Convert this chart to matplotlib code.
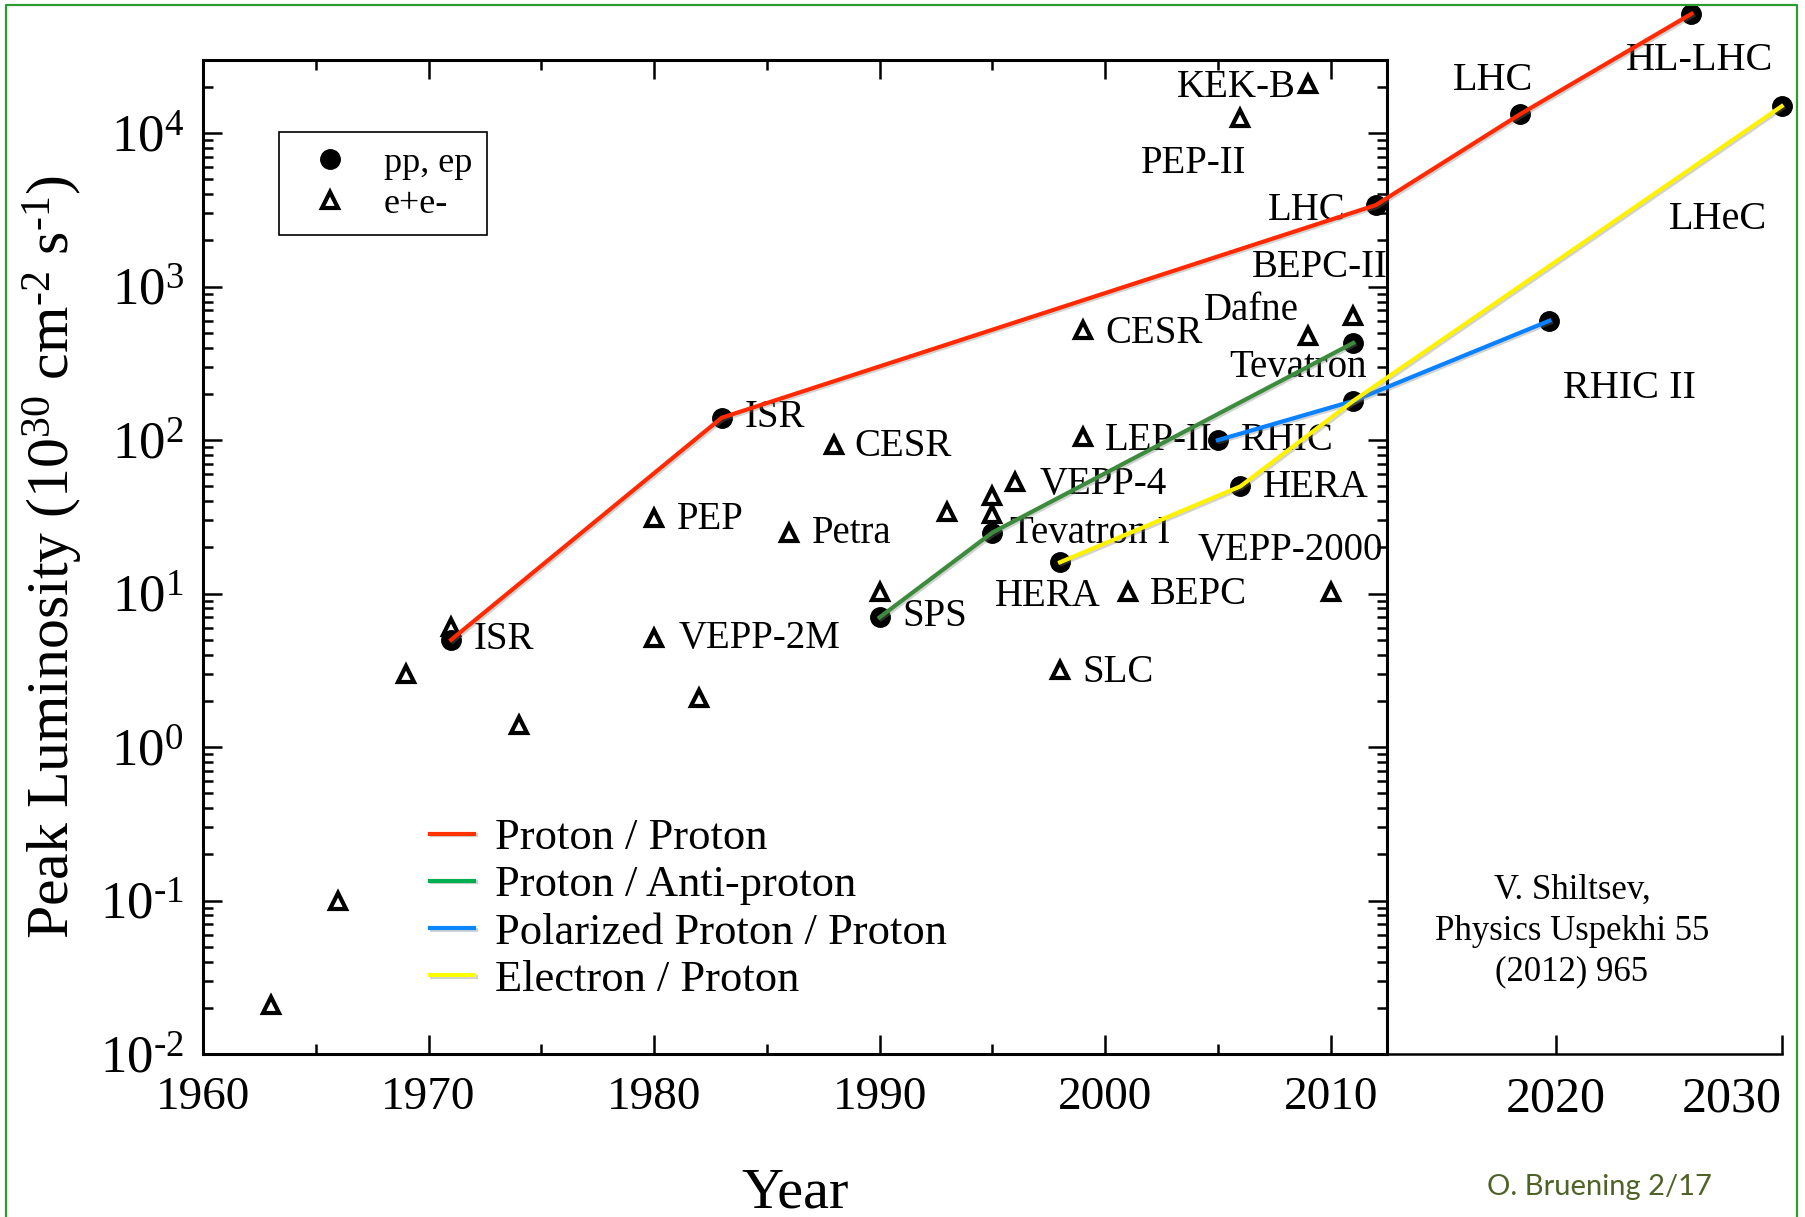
import math
import matplotlib
matplotlib.use('Agg')
import matplotlib.pyplot as plt
import matplotlib.patheffects as pe
from matplotlib.lines import Line2D
from matplotlib.ticker import MultipleLocator, LogLocator, NullFormatter, FuncFormatter

# fonts: Times-like serif everywhere, also inside the exponents
plt.rcParams['font.family'] = ['Liberation Serif', 'DejaVu Serif']
plt.rcParams['mathtext.fontset'] = 'custom'
plt.rcParams['mathtext.rm'] = 'Liberation Serif'
plt.rcParams['mathtext.it'] = 'Liberation Serif:italic'
plt.rcParams['mathtext.bf'] = 'Liberation Serif:bold'
plt.rcParams['axes.unicode_minus'] = False

# hadron colliders (pp, ep) - filled circles
pp_year = [1971, 1983, 1990, 1995, 1998, 2005, 2006, 2011, 2011, 2012, 2018.4, 2026, 2030, 2019.7]
pp_lum = [5, 140, 7, 25, 16, 100, 50, 180, 430, 3400, 13300, 60000, 15000, 600]

# lepton colliders (e+e-) - open triangles
ee_year = [1963, 1966, 1969, 1971, 1974, 1980, 1980, 1982, 1986, 1988, 1990, 1993,
           1995, 1995, 1996, 1998, 1999, 1999, 2001, 2006, 2009, 2009, 2010, 2011]
ee_lum = [0.021, 0.1, 3.0, 6.1, 1.4, 31, 5.1, 2.1, 25, 93, 10.2, 34,
          43, 33, 53, 3.2, 105, 520, 10.2, 12500, 21000, 480, 10.2, 640]

# connecting lines per collider type
pp_line_year = [1971, 1983, 2012, 2018.4, 2026]
pp_line_lum = [5, 140, 3400, 13300, 60000]
ppbar_year = [1990, 1995, 2011]
ppbar_lum = [7, 25, 430]
polpp_year = [2005, 2011, 2019.7]
polpp_lum = [100, 180, 600]
ep_year = [1998, 2006, 2011, 2030]
ep_lum = [16, 50, 180, 15000]

line_names = ['Proton / Proton', 'Proton / Anti-proton', 'Polarized Proton / Proton', 'Electron / Proton']
plot_colors = ['#ff2a00', '#3d8c3d', '#0a82ff', '#fff200']
legend_colors = ['#ff3300', '#00b050', '#0a84ff', '#ffff00']

# machine names and where their labels sit (year, luminosity)
machines = ['ISR', 'ISR', 'CESR', 'PEP', 'Petra', 'VEPP-2M', 'SPS', 'Tevatron I', 'HERA', 'BEPC',
            'SLC', 'VEPP-2000', 'VEPP-4', 'LEP-II', 'RHIC', 'HERA', 'CESR', 'Dafne', 'Tevatron',
            'BEPC-II', 'LHC', 'PEP-II', 'KEK-B']
machine_x = [1972.0, 1984.0, 1988.9, 1981.0, 1987.0, 1981.1, 1991.0, 1995.8, 1995.1, 2002.0,
             1999.0, 2004.1, 1997.1, 2000.0, 2006.0, 2007.0, 2000.0, 2004.4, 2005.5,
             2006.5, 2007.2, 2001.6, 2003.2]
machine_y = [5.06, 141, 91, 30.5, 24.8, 5.1, 7.1, 24.8, 9.6, 9.9,
             3.08, 19.2, 51.7, 100, 100, 49.4, 498, 703, 299,
             1340, 3150, 6380, 20000]

future = ['LHC', 'HL-LHC', 'LHeC', 'RHIC II']
future_x = [2015.4, 2023.1, 2025.0, 2020.3]
future_y = [22000, 30000, 2760, 218]

W, H = 1806, 1217
fig = plt.figure(figsize=(W / 100, H / 100), dpi=100)
ax = fig.add_axes([203 / W, 1 - 1054 / H, (1387 - 203) / W, (1054 - 60) / H])

ax.set_yscale('log')
ax.set_xlim(1960, 2012.5)
ax.set_ylim(1e-2, 3e4)

shadow = [pe.SimpleLineShadow(offset=(1.2, -1.2), shadow_color='gray', alpha=0.35), pe.Normal()]

# markers first, lines are drawn over them
ax.plot(ee_year, ee_lum, ls='none', marker='^', ms=11, mfc='white', mec='black', mew=3,
        clip_on=False, zorder=4)
ax.plot(pp_year, pp_lum, ls='none', marker='o', ms=14, color='black', clip_on=False, zorder=4)

for xs, ys, c in zip([pp_line_year, ppbar_year, polpp_year, ep_year],
                     [pp_line_lum, ppbar_lum, polpp_lum, ep_lum], plot_colors):
    ax.plot(xs, ys, color=c, lw=3, clip_on=False, zorder=5, path_effects=shadow)

for name, x, y in zip(machines, machine_x, machine_y):
    ax.text(x, y, name, fontsize=28, ha='left', va='center', zorder=3)
for name, x, y in zip(future, future_x, future_y):
    ax.text(x, y, name, fontsize=29, ha='left', va='center', zorder=3)

# axes styling
for sp in ax.spines.values():
    sp.set_linewidth(2.2)
ax.xaxis.set_major_locator(MultipleLocator(10))
ax.xaxis.set_minor_locator(MultipleLocator(5))
ax.yaxis.set_major_locator(LogLocator(base=10, numticks=12))
ax.yaxis.set_minor_locator(LogLocator(base=10, subs=range(2, 10), numticks=12))
ax.yaxis.set_minor_formatter(NullFormatter())
ax.yaxis.set_major_formatter(FuncFormatter(lambda v, p: r'$\mathregular{10^{\text{%d}}}$' % round(math.log10(v))))
ax.tick_params(which='both', direction='in', top=True, right=True, width=1.8)
ax.tick_params(which='major', length=13.7)
ax.tick_params(which='minor', length=7)
ax.tick_params(axis='x', labelsize=34, pad=16)
ax.tick_params(axis='y', labelsize=38, pad=14)

ax.set_xlabel('Year', fontsize=42)
ax.xaxis.set_label_coords(0.5, (1054 - 1168) / 994)
ax.set_ylabel(r'Peak Luminosity (10$^{30}$ cm$^{\text{-2}}$ s$^{\text{-1}}$)', fontsize=43)
ax.yaxis.set_label_coords((53 - 203) / 1184, 0.5)
ax.yaxis.label.set_va('center')

# the x axis continues into the future beyond the framed box
ax_ext = fig.add_axes([1387 / W, 1 - 1054 / H, 17.5 * 1184 / 52.5 / W, 0.05])
ax_ext.set_xlim(2012.5, 2030)
ax_ext.set_facecolor('none')
for s in ['top', 'left', 'right']:
    ax_ext.spines[s].set_visible(False)
ax_ext.spines['bottom'].set_linewidth(1.8)
ax_ext.set_yticks([])
ax_ext.set_xticks([2020, 2030])
ax_ext.set_xticklabels(['2020', '2030'])
ax_ext.tick_params(axis='x', direction='in', length=13.7, width=1.8, labelsize=36, pad=16)
ax_ext.get_xticklabels()[1].set_ha('right')

# marker legend (boxed, upper left)
mk_handles = [Line2D([], [], ls='none', marker='o', ms=14, color='black'),
              Line2D([], [], ls='none', marker='^', ms=11, mfc='white', mec='black', mew=3)]
leg1 = ax.legend(mk_handles, ['pp, ep', 'e+e-'], loc='upper left',
                 bbox_to_anchor=(279 / W, 1 - 132 / H), bbox_transform=fig.transFigure,
                 borderaxespad=0, fontsize=26, fancybox=False, edgecolor='black', framealpha=1,
                 handlelength=2.0, handletextpad=0.5, labelspacing=0.22, borderpad=0.4)
leg1.get_frame().set_linewidth(1.2)
ax.add_artist(leg1)

# collider type legend (no frame, lower left)
ln_handles = [Line2D([], [], color=c, lw=3, path_effects=shadow) for c in legend_colors]
ax.legend(ln_handles, line_names, loc='upper left',
          bbox_to_anchor=(430 / W, 1 - 818 / H), bbox_transform=fig.transFigure,
          borderaxespad=0, borderpad=0, frameon=False, fontsize=32,
          handlelength=1.0, handletextpad=0.47, labelspacing=0.16)

fig.text(1572 / W, 1 - 931 / H, 'V. Shiltsev,\nPhysics Uspekhi 55\n(2012) 965',
         ha='center', va='center', fontsize=25, linespacing=1.32, multialignment='center')
fig.text(1487 / W, 1 - 1187 / H, 'O. Bruening 2/17', fontsize=21, family='Lato',
         color='#4f6228', ha='left', va='center')

# green slide frame
fig.add_artist(Line2D([6 / W, 6 / W, 1797 / W, 1797 / W], [0, 1 - 5 / H, 1 - 5 / H, 0],
                      transform=fig.transFigure, color='#2e9b2e', lw=1.6))

fig.savefig('out.png', dpi=100)
